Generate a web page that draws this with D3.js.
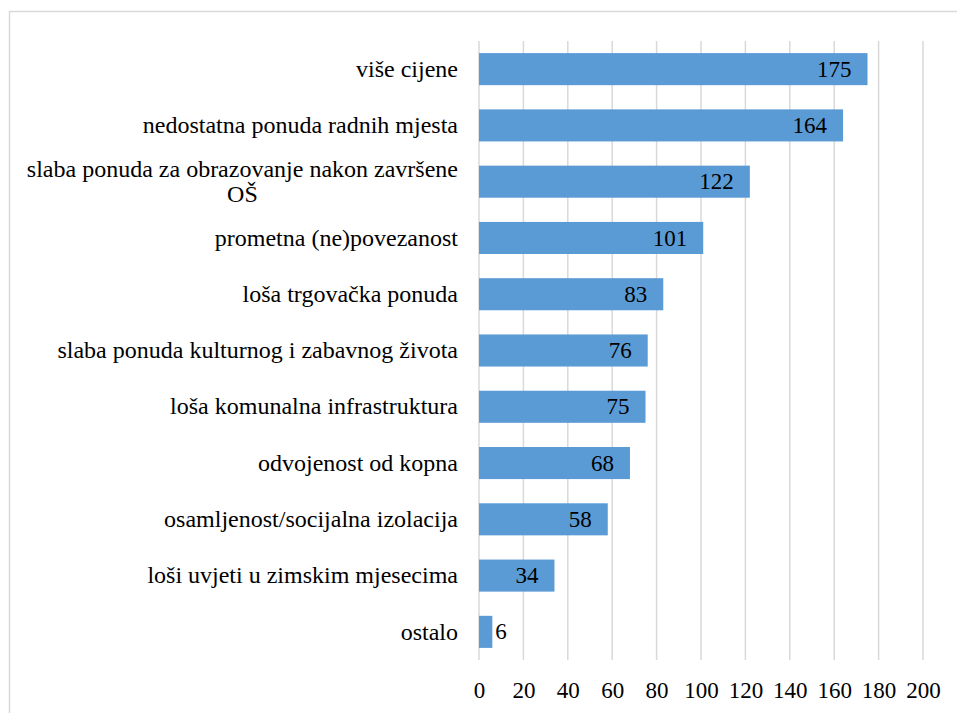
<!DOCTYPE html>
<html>
<head>
<meta charset="utf-8">
<script src="https://cdn.jsdelivr.net/npm/d3@7"></script>
<style>
  html, body { margin: 0; padding: 0; background: #fff; }
  svg { display: block; }
</style>
</head>
<body>
<div id="chart"></div>
<script>
// categories top to bottom, "\n" marks where the label wraps
const categories = [
  'više cijene',
  'nedostatna ponuda radnih mjesta',
  'slaba ponuda za obrazovanje nakon završene\nOŠ',
  'prometna (ne)povezanost',
  'loša trgovačka ponuda',
  'slaba ponuda kulturnog i zabavnog života',
  'loša komunalna infrastruktura',
  'odvojenost od kopna',
  'osamljenost/socijalna izolacija',
  'loši uvjeti u zimskim mjesecima',
  'ostalo'
]
const values = [175, 164, 122, 101, 83, 76, 75, 68, 58, 34, 6]
const xTicks = [0, 20, 40, 60, 80, 100, 120, 140, 160, 180, 200]

const width = 957, height = 713
const plot = { left: 479, right: 923, top: 41, bottom: 660 }
const FONT = "'Liberation Serif', 'Times New Roman', serif"

const svg = d3.select('#chart').append('svg')
  .attr('width', width)
  .attr('height', height)

// chart frame (runs off the page on right and bottom)
svg.append('rect')
  .attr('x', 9.5).attr('y', 11.5)
  .attr('width', 1000).attr('height', 1000)
  .attr('fill', 'none')
  .attr('stroke', '#d9d9d9')
  .attr('stroke-width', 1.5)

const x = d3.scaleLinear()
  .domain([0, 200])
  .range([plot.left, plot.right])

const y = d3.scaleBand()
  .domain(categories)
  .range([plot.top, plot.bottom])
  .paddingInner(0.43)
  .paddingOuter(0.215)

// gridlines
svg.append('g')
  .selectAll('line')
  .data(xTicks)
  .join('line')
    .attr('x1', d => x(d)).attr('x2', d => x(d))
    .attr('y1', plot.top).attr('y2', plot.bottom)
    .attr('stroke', '#d9d9d9')
    .attr('stroke-width', 1.5)

// x tick labels
const xAxis = svg.append('g')
  .attr('transform', `translate(0,${plot.bottom})`)
  .call(d3.axisBottom(x).tickValues(xTicks).tickSize(0).tickPadding(22))
xAxis.select('.domain').remove()
xAxis.selectAll('text')
  .style('font-family', FONT)
  .style('font-size', '23px')
  .attr('fill', '#000')

// bars
svg.append('g')
  .selectAll('rect')
  .data(values)
  .join('rect')
    .attr('x', x(0))
    .attr('y', (d, i) => y(categories[i]))
    .attr('width', d => x(d) - x(0))
    .attr('height', y.bandwidth())
    .attr('fill', '#5b9bd5')

// value labels, inside end unless the bar is too short
svg.append('g')
  .selectAll('text')
  .data(values)
  .join('text')
    .style('font-family', FONT)
    .style('font-size', '23px')
    .attr('fill', '#000')
    .attr('y', (d, i) => y(categories[i]) + y.bandwidth() / 2)
    .attr('dy', '0.33em')
    .each(function(d) {
      const inside = x(d) - x(0) > 40
      d3.select(this)
        .attr('x', inside ? x(d) - 16 : x(d) + 3)
        .attr('text-anchor', inside ? 'end' : 'start')
        .text(d)
    })

// category labels
const labelX = 458, lineH = 25
const labels = svg.append('g')
  .selectAll('g')
  .data(categories)
  .join('g')
labels.each(function(c) {
  const lines = c.split('\n')
  const cy = y(c) + y.bandwidth() / 2
  const g = d3.select(this)
  const texts = lines.map((ln, k) => g.append('text')
    .style('font-family', FONT)
    .style('font-size', '24px')
    .attr('fill', '#000')
    .attr('text-anchor', 'middle')
    .attr('y', cy + (k - (lines.length - 1) / 2) * lineH)
    .attr('dy', '0.32em')
    .text(ln))
  // block is right aligned, lines centred on each other
  const w = d3.max(texts, t => t.node().getComputedTextLength())
  texts.forEach(t => t.attr('x', labelX - w / 2))
})
</script>
</body>
</html>
